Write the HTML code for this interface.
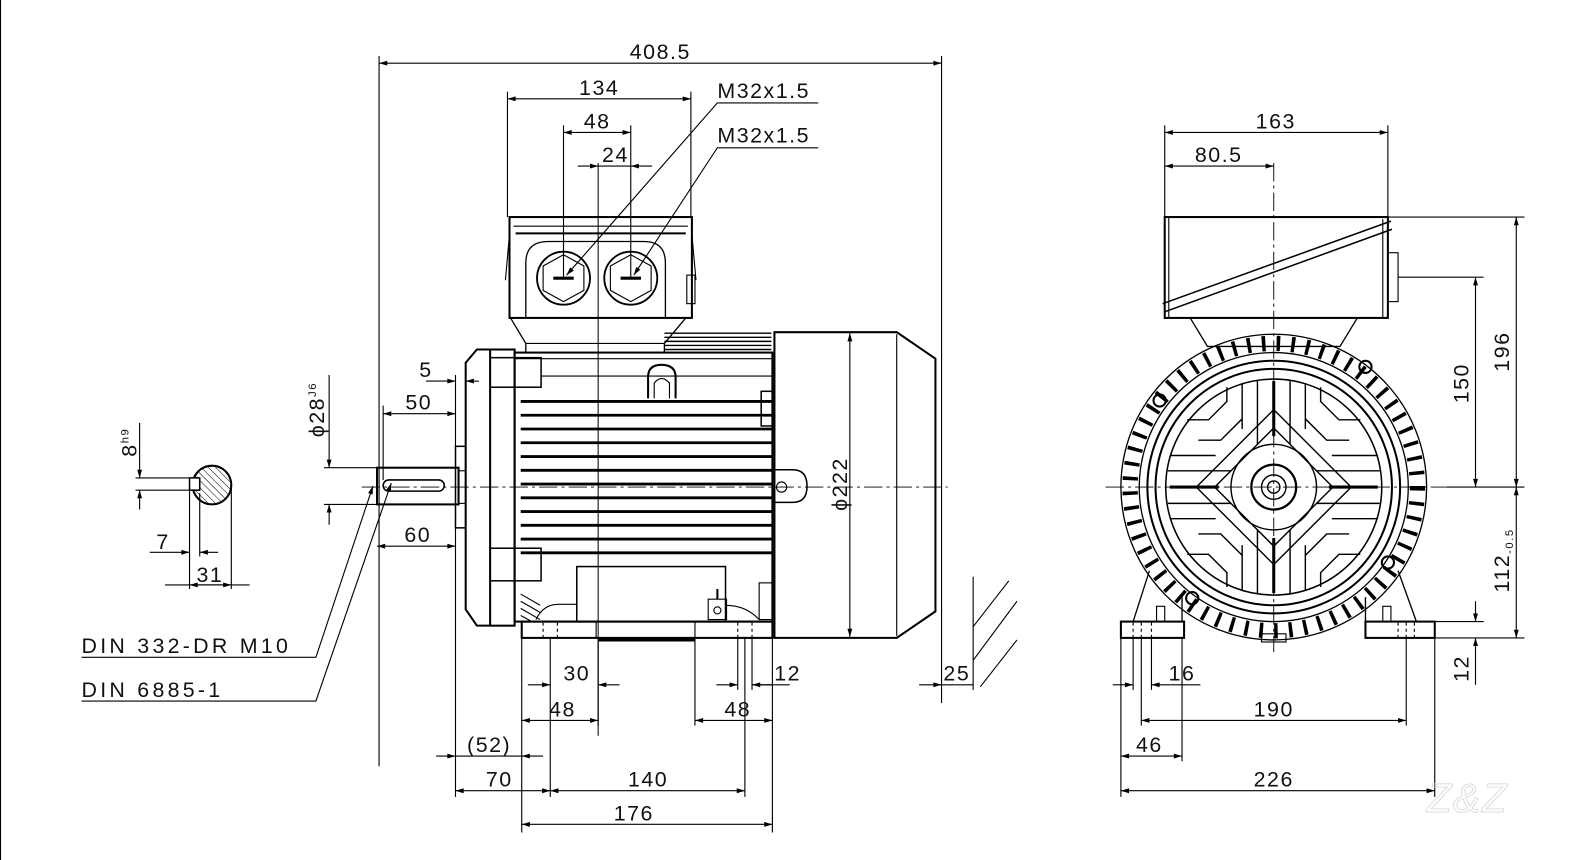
<!DOCTYPE html>
<html><head><meta charset="utf-8"><style>
html,body{margin:0;padding:0;background:#fff;}
svg{display:block}
text{font-family:"Liberation Sans",sans-serif;font-size:21px;fill:#111;letter-spacing:1.5px}
</style></head><body>
<svg width="1596" height="860" viewBox="0 0 1596 860" xmlns="http://www.w3.org/2000/svg">
<defs>
<marker id="a" viewBox="0 0 10 10" refX="10" refY="5" markerWidth="11" markerHeight="8" orient="auto-start-reverse" markerUnits="userSpaceOnUse"><path d="M0,2 L10,5 L0,8z" fill="#000"/></marker>
<pattern id="h" width="5" height="5" patternUnits="userSpaceOnUse" patternTransform="rotate(-45)"><line x1="0" y1="0" x2="0" y2="5" stroke="#000" stroke-width="1"/></pattern>
</defs>
<g transform="scale(1.019)">
<g fill="none" stroke="#000" stroke-width="1.1">
<line x1="0.5" y1="0" x2="0.5" y2="860"/>
<!-- center lines -->
<line x1="355" y1="478" x2="930" y2="478" stroke-dasharray="18 4 3 4" stroke-width="0.9"/>
<line x1="1085" y1="478" x2="1420" y2="478" stroke-dasharray="18 4 3 4" stroke-width="0.9"/>
<line x1="1250" y1="160" x2="1250" y2="640" stroke-dasharray="18 4 3 4" stroke-width="0.9"/>
<line x1="587" y1="160" x2="587" y2="722" stroke-width="1"/>

<!-- 408.5 -->
<line x1="372" y1="55" x2="372" y2="752"/>
<line x1="924" y1="55" x2="924" y2="690"/>
<line x1="372" y1="62" x2="924" y2="62" marker-start="url(#a)" marker-end="url(#a)"/>
<!-- 134 -->
<line x1="498" y1="90" x2="498" y2="213"/><line x1="678" y1="90" x2="678" y2="213"/>
<line x1="498" y1="97" x2="678" y2="97" marker-start="url(#a)" marker-end="url(#a)"/>
<!-- 48 -->
<line x1="553" y1="123" x2="553" y2="272"/><line x1="619" y1="123" x2="619" y2="272"/>
<line x1="553" y1="130" x2="619" y2="130" marker-start="url(#a)" marker-end="url(#a)"/>
<!-- 24 -->
<line x1="567" y1="163" x2="587" y2="163" marker-end="url(#a)"/>
<line x1="640" y1="163" x2="619" y2="163" marker-end="url(#a)"/>
<line x1="587" y1="163" x2="619" y2="163"/>
<!-- M32 leaders -->
<polyline points="803,101 704,101 556,270" marker-end="url(#a)"/>
<polyline points="803,145 704,145 622,270" marker-end="url(#a)"/>

<!-- terminal box side -->
<rect x="500" y="213" width="179" height="99" stroke-width="2"/>
<line x1="504" y1="222" x2="675" y2="222"/>
<line x1="506" y1="229" x2="673" y2="229" stroke-width="2"/>
<line x1="500" y1="230" x2="496" y2="275"/><line x1="679" y1="230" x2="683" y2="275"/>
<path d="M516,312 V258 Q516,237 538,237 H632 Q653,237 653,258 V312" stroke-width="1.3"/>
<circle cx="553" cy="273" r="26" stroke-width="1.8"/>
<polygon points="553,250 573,261 573,285 553,296 533,285 533,261"/>
<circle cx="619" cy="273" r="26" stroke-width="1.8"/>
<polygon points="619,250 639,261 639,285 619,296 599,285 599,261"/>
<line x1="543" y1="273" x2="563" y2="273" stroke-width="3"/>
<line x1="609" y1="273" x2="629" y2="273" stroke-width="3"/>
<rect x="674" y="270" width="8" height="28"/>
<!-- neck -->
<polyline points="501,312 516,337 516,346" stroke-width="1.3"/>
<polyline points="673,312 652,337 652,346" stroke-width="1.3"/>
<line x1="516" y1="337" x2="652" y2="337"/>
<g stroke-width="1.4">
<line x1="652" y1="327" x2="757" y2="327"/><line x1="652" y1="331" x2="757" y2="331"/><line x1="652" y1="335" x2="757" y2="335"/><line x1="652" y1="339" x2="757" y2="339"/><line x1="652" y1="343" x2="757" y2="343"/>
</g>
<!-- main body -->
<rect x="505" y="346" width="253" height="264" stroke-width="2"/>
<line x1="505" y1="352" x2="758" y2="352"/>
<line x1="531" y1="369" x2="758" y2="369"/>
<!-- flange -->
<path d="M481,343 H468 L457,356 V598 L468,614 H481" stroke-width="2"/>
<rect x="481" y="343" width="24" height="271" stroke-width="2"/>
<rect x="481" y="351" width="50" height="29" stroke-width="1.5"/>
<rect x="481" y="538" width="50" height="32" stroke-width="1.5"/>
<rect x="447" y="438" width="10" height="80" stroke-width="1.5"/>
<rect x="450" y="462" width="7" height="32"/>
<!-- lifting eye -->
<path d="M636,391 V370 Q636,358 649,358 Q663,358 663,370 V391" stroke-width="2"/>
<path d="M642,391 V376 Q649,367 657,376 V391"/>
<!-- fins -->
<g stroke-width="2.8">
<line x1="511" y1="394" x2="758" y2="394"/><line x1="511" y1="407.5" x2="758" y2="407.5"/><line x1="511" y1="421" x2="758" y2="421"/><line x1="511" y1="434.5" x2="758" y2="434.5"/><line x1="511" y1="448" x2="758" y2="448"/><line x1="511" y1="461.5" x2="758" y2="461.5"/><line x1="511" y1="475" x2="758" y2="475"/><line x1="511" y1="488.5" x2="758" y2="488.5"/><line x1="511" y1="502" x2="758" y2="502"/><line x1="511" y1="515.5" x2="758" y2="515.5"/><line x1="511" y1="529" x2="758" y2="529"/><line x1="511" y1="542.5" x2="758" y2="542.5"/>
</g>
<rect x="747" y="384" width="11" height="34" stroke-width="1.5"/>
<!-- bottom block -->
<rect x="566" y="556" width="146" height="54" stroke-width="1.5"/>
<rect x="695" y="588" width="18" height="20"/><circle cx="704" cy="599" r="3.5"/>
<line x1="704" y1="578" x2="704" y2="588" stroke-width="2"/>
<path d="M526,608 Q533,593 548,593 H566"/><path d="M712,594 Q732,594 745,608"/>
<line x1="511" y1="583" x2="530" y2="594"/><line x1="511" y1="590" x2="530" y2="601"/><line x1="511" y1="597" x2="530" y2="608"/><line x1="511" y1="604" x2="522" y2="610"/>
<rect x="745" y="572" width="13" height="36"/>
<!-- feet -->
<rect x="512" y="610" width="246" height="16" stroke-width="2"/>
<line x1="585" y1="610" x2="585" y2="626"/><line x1="682" y1="610" x2="682" y2="626"/>
<line x1="533" y1="611" x2="533" y2="625" stroke-dasharray="3 3"/><line x1="547" y1="611" x2="547" y2="625" stroke-dasharray="3 3"/>
<line x1="724" y1="611" x2="724" y2="625" stroke-dasharray="3 3"/><line x1="738" y1="611" x2="738" y2="625" stroke-dasharray="3 3"/>
<line x1="587" y1="628" x2="682" y2="628" stroke-width="3"/>
<!-- lug -->
<path d="M758,461 H778 Q792,461 792,477 Q792,493 778,493 H758" stroke-width="1.5"/>
<circle cx="767" cy="478" r="5"/>
<!-- fan cover -->
<path d="M760,326 H880 L918,352 V600 L880,626 H760 Z" stroke-width="2"/>
<line x1="880" y1="328" x2="880" y2="624"/>
<line x1="834" y1="327" x2="834" y2="625" marker-start="url(#a)" marker-end="url(#a)"/>

<!-- shaft -->
<rect x="370" y="459" width="80" height="36" stroke-width="2"/>
<rect x="376" y="471" width="60" height="11" rx="5.5" stroke-width="1.5"/>
<line x1="318" y1="459" x2="370" y2="459"/><line x1="318" y1="495" x2="370" y2="495"/>
<line x1="323" y1="439" x2="323" y2="459" marker-end="url(#a)"/>
<line x1="323" y1="515" x2="323" y2="495" marker-end="url(#a)"/>
<line x1="323" y1="368" x2="323" y2="439"/>
<!-- 5 -->
<line x1="418" y1="374" x2="447" y2="374" marker-end="url(#a)"/>
<line x1="470" y1="374" x2="457" y2="374" marker-end="url(#a)"/>
<line x1="447" y1="368" x2="447" y2="438"/><line x1="457" y1="368" x2="457" y2="400"/>
<!-- 50 -->
<line x1="376" y1="398" x2="376" y2="471"/>
<line x1="376" y1="406" x2="447" y2="406" marker-start="url(#a)" marker-end="url(#a)"/>
<!-- 60 -->
<line x1="370" y1="536" x2="447" y2="536" marker-start="url(#a)" marker-end="url(#a)"/>
<line x1="447" y1="518" x2="447" y2="782"/>
<!-- DIN leaders -->
<polyline points="80,645 310,645 366,477" marker-end="url(#a)"/>
<polyline points="80,688 310,688 384,474" marker-end="url(#a)"/>

<!-- key section -->
<circle cx="208" cy="476" r="19" stroke-width="2" fill="url(#h)"/>
<rect x="186" y="469" width="10" height="12" fill="#fff" stroke-width="1.5"/>
<line x1="133" y1="469" x2="186" y2="469"/><line x1="133" y1="481" x2="186" y2="481"/>
<line x1="137" y1="451" x2="137" y2="469" marker-end="url(#a)"/>
<line x1="137" y1="500" x2="137" y2="481" marker-end="url(#a)"/>
<line x1="137" y1="415" x2="137" y2="451"/>
<line x1="186" y1="481" x2="186" y2="578"/><line x1="196" y1="484" x2="196" y2="546"/><line x1="227" y1="478" x2="227" y2="578"/>
<line x1="147" y1="542" x2="186" y2="542" marker-end="url(#a)"/>
<line x1="214" y1="542" x2="196" y2="542" marker-end="url(#a)"/>
<line x1="162" y1="574" x2="245" y2="574"/>
<line x1="186" y1="574" x2="227" y2="574" marker-start="url(#a)" marker-end="url(#a)"/>

<!-- bottom dims side -->
<line x1="512" y1="626" x2="512" y2="817"/><line x1="587" y1="626" x2="587" y2="712"/>
<line x1="682" y1="626" x2="682" y2="712"/><line x1="758" y1="626" x2="758" y2="817"/>
<line x1="540" y1="626" x2="540" y2="782"/><line x1="731" y1="626" x2="731" y2="782"/><line x1="724" y1="626" x2="724" y2="677"/><line x1="738" y1="626" x2="738" y2="677"/>
<line x1="518" y1="672" x2="540" y2="672" marker-end="url(#a)"/>
<line x1="608" y1="672" x2="587" y2="672" marker-end="url(#a)"/>
<line x1="703" y1="672" x2="724" y2="672" marker-end="url(#a)"/>
<line x1="775" y1="672" x2="738" y2="672"/>
<line x1="758" y1="672" x2="738" y2="672" marker-end="url(#a)"/>
<line x1="512" y1="707" x2="587" y2="707" marker-start="url(#a)" marker-end="url(#a)"/>
<line x1="682" y1="707" x2="758" y2="707" marker-start="url(#a)" marker-end="url(#a)"/>
<line x1="428" y1="742" x2="447" y2="742" marker-end="url(#a)"/>
<line x1="533" y1="742" x2="512" y2="742" marker-end="url(#a)"/>
<line x1="447" y1="742" x2="512" y2="742"/>
<line x1="447" y1="776" x2="540" y2="776" marker-start="url(#a)" marker-end="url(#a)"/>
<line x1="540" y1="776" x2="731" y2="776" marker-start="url(#a)" marker-end="url(#a)"/>
<line x1="512" y1="809" x2="758" y2="809" marker-start="url(#a)" marker-end="url(#a)"/>
<!-- 25 -->
<line x1="924" y1="672" x2="955" y2="672"/>
<line x1="902" y1="672" x2="924" y2="672" marker-end="url(#a)"/>
<line x1="955" y1="566" x2="955" y2="677"/>
<line x1="955" y1="615" x2="990" y2="570"/><line x1="955" y1="648" x2="998" y2="590"/><line x1="962" y1="674" x2="998" y2="628"/>

<!-- END VIEW -->
<rect x="1143" y="213" width="219" height="99" stroke-width="2"/>
<line x1="1147" y1="213" x2="1147" y2="312"/>
<line x1="1357" y1="215" x2="1357" y2="312"/>
<line x1="1141" y1="298" x2="1365" y2="217" stroke-width="1.5"/>
<line x1="1143" y1="306" x2="1366" y2="225" stroke-width="1.5"/>
<rect x="1362" y="248" width="10" height="48"/>
<polyline points="1168,312 1185,340 1315,340 1332,312" stroke-width="1.3"/>
<circle cx="1250" cy="478" r="141" stroke-width="15" stroke-dasharray="3.5 11"/>
<circle cx="1250" cy="478" r="150" stroke-width="1.3"/>
<circle cx="1250" cy="478" r="132" stroke-width="1.3"/>
<circle cx="1250" cy="478" r="124" stroke-width="2"/>
<circle cx="1250" cy="478" r="116" stroke-width="2"/>
<circle cx="1250" cy="478" r="106" stroke-width="1.5"/>
<g stroke-width="1.4">
<circle cx="1250" cy="478" r="42"/>
<circle cx="1250" cy="478" r="22" stroke-width="2.2"/>
<circle cx="1250" cy="478" r="12"/>
<circle cx="1250" cy="478" r="6"/>
<polygon points="1250,420 1308,478 1250,536 1192,478"/>
<polygon points="1250,402 1326,478 1250,554 1174,478"/>
<line x1="1148" y1="478" x2="1196" y2="478" stroke-width="3"/><line x1="1304" y1="478" x2="1352" y2="478" stroke-width="3"/>
<line x1="1250" y1="374" x2="1250" y2="428" stroke-width="3"/><line x1="1250" y1="528" x2="1250" y2="582" stroke-width="3"/>
<line x1="1146" y1="462" x2="1208" y2="462"/><line x1="1146" y1="494" x2="1208" y2="494"/>
<line x1="1292" y1="462" x2="1354" y2="462"/><line x1="1292" y1="494" x2="1354" y2="494"/>
<line x1="1234" y1="374" x2="1234" y2="436"/><line x1="1266" y1="374" x2="1266" y2="436"/>
<line x1="1234" y1="520" x2="1234" y2="582"/><line x1="1266" y1="520" x2="1266" y2="582"/>
<line x1="1148" y1="447" x2="1193" y2="447"/><line x1="1148" y1="509" x2="1193" y2="509"/>
<line x1="1307" y1="447" x2="1352" y2="447"/><line x1="1307" y1="509" x2="1352" y2="509"/>
<line x1="1219" y1="376" x2="1219" y2="421"/><line x1="1281" y1="376" x2="1281" y2="421"/>
<line x1="1219" y1="535" x2="1219" y2="580"/><line x1="1281" y1="535" x2="1281" y2="580"/>
<polyline points="1165,412 1186,412 1204,394 1204,380"/><polyline points="1335,412 1314,412 1296,394 1296,380"/>
<polyline points="1165,544 1186,544 1204,562 1204,576"/><polyline points="1335,544 1314,544 1296,562 1296,576"/>
<polyline points="1176,432 1198,432 1219,411"/><polyline points="1324,432 1302,432 1281,411"/>
<polyline points="1176,524 1198,524 1219,545"/><polyline points="1324,524 1302,524 1281,545"/>
</g>
<g stroke-width="2"><circle cx="1138" cy="393" r="6"/><circle cx="1340" cy="360" r="6"/><circle cx="1362" cy="552" r="6"/><circle cx="1170" cy="587" r="6"/></g>
<!-- feet end view -->
<path d="M1112,610 L1128,560 M1160,610 L1160,586" stroke-width="1.3"/>
<path d="M1390,610 L1372,560 M1340,610 L1340,586" stroke-width="1.3"/>
<rect x="1100" y="610" width="62" height="16" stroke-width="2"/>
<rect x="1340" y="610" width="68" height="16" stroke-width="2"/>
<rect x="1135" y="595" width="8" height="15"/><rect x="1357" y="595" width="8" height="15"/>
<line x1="1112" y1="611" x2="1112" y2="625" stroke-dasharray="3 3"/><line x1="1120" y1="611" x2="1120" y2="625" stroke-dasharray="3 3"/><line x1="1130" y1="611" x2="1130" y2="625" stroke-dasharray="3 3"/>
<line x1="1372" y1="611" x2="1372" y2="625" stroke-dasharray="3 3"/><line x1="1380" y1="611" x2="1380" y2="625" stroke-dasharray="3 3"/><line x1="1388" y1="611" x2="1388" y2="625" stroke-dasharray="3 3"/>
<rect x="1238" y="622" width="24" height="8"/>

<!-- end view dims -->
<line x1="1143" y1="123" x2="1143" y2="213"/><line x1="1362" y1="123" x2="1362" y2="213"/>
<line x1="1143" y1="130" x2="1362" y2="130" marker-start="url(#a)" marker-end="url(#a)"/>
<line x1="1143" y1="163" x2="1250" y2="163" marker-start="url(#a)" marker-end="url(#a)"/>
<line x1="1362" y1="213" x2="1496" y2="213"/>
<line x1="1372" y1="272" x2="1456" y2="272"/>
<line x1="1420" y1="478" x2="1496" y2="478"/>
<line x1="1408" y1="626" x2="1496" y2="626"/>
<line x1="1408" y1="610" x2="1456" y2="610"/>
<line x1="1488" y1="213" x2="1488" y2="478" marker-start="url(#a)" marker-end="url(#a)"/>
<line x1="1448" y1="272" x2="1448" y2="478" marker-start="url(#a)" marker-end="url(#a)"/>
<line x1="1488" y1="478" x2="1488" y2="626" marker-start="url(#a)" marker-end="url(#a)"/>
<line x1="1448" y1="590" x2="1448" y2="610" marker-end="url(#a)"/>
<line x1="1448" y1="646" x2="1448" y2="626" marker-end="url(#a)"/>
<line x1="1448" y1="646" x2="1448" y2="672"/>
<line x1="1100" y1="626" x2="1100" y2="782"/><line x1="1408" y1="626" x2="1408" y2="782"/>
<line x1="1112" y1="626" x2="1112" y2="677"/><line x1="1120" y1="626" x2="1120" y2="712"/><line x1="1380" y1="626" x2="1380" y2="712"/>
<line x1="1130" y1="626" x2="1130" y2="677"/><line x1="1160" y1="626" x2="1160" y2="747"/>
<line x1="1092" y1="672" x2="1112" y2="672" marker-end="url(#a)"/>
<line x1="1150" y1="672" x2="1130" y2="672" marker-end="url(#a)"/>
<line x1="1150" y1="672" x2="1178" y2="672"/>
<line x1="1120" y1="707" x2="1380" y2="707" marker-start="url(#a)" marker-end="url(#a)"/>
<line x1="1100" y1="742" x2="1160" y2="742" marker-start="url(#a)" marker-end="url(#a)"/>
<line x1="1100" y1="776" x2="1408" y2="776" marker-start="url(#a)" marker-end="url(#a)"/>
</g>

<!-- texts -->
<text x="648" y="58" text-anchor="middle">408.5</text>
<text x="588" y="93" text-anchor="middle">134</text>
<text x="704" y="96">M32x1.5</text>
<text x="704" y="140">M32x1.5</text>
<text x="586" y="126" text-anchor="middle">48</text>
<text x="604" y="159" text-anchor="middle">24</text>
<text x="418" y="370" text-anchor="middle">5</text>
<text x="411" y="402" text-anchor="middle">50</text>
<text x="410" y="532" text-anchor="middle">60</text>
<text x="318" y="402" transform="rotate(-90 318 402)" text-anchor="middle">ϕ28<tspan font-size="11" dy="-8">J6</tspan></text>
<text x="134" y="434" transform="rotate(-90 134 434)" text-anchor="middle">8<tspan font-size="11" dy="-8">h9</tspan></text>
<text x="160" y="539" text-anchor="middle">7</text>
<text x="206" y="571" text-anchor="middle">31</text>
<text x="80" y="641" style="letter-spacing:3.2px">DIN 332-DR M10</text>
<text x="80" y="684" style="letter-spacing:3.2px">DIN 6885-1</text>
<text x="831" y="475" transform="rotate(-90 831 475)" text-anchor="middle">ϕ222</text>
<text x="566" y="668" text-anchor="middle">30</text>
<text x="773" y="668" text-anchor="middle">12</text>
<text x="552" y="703" text-anchor="middle">48</text>
<text x="724" y="703" text-anchor="middle">48</text>
<text x="480" y="738" text-anchor="middle">(52)</text>
<text x="490" y="772" text-anchor="middle">70</text>
<text x="636" y="772" text-anchor="middle">140</text>
<text x="622" y="805" text-anchor="middle">176</text>
<text x="939" y="668" text-anchor="middle">25</text>
<text x="1252" y="126" text-anchor="middle">163</text>
<text x="1196" y="159" text-anchor="middle">80.5</text>
<text x="1481" y="345" transform="rotate(-90 1481 345)" text-anchor="middle">196</text>
<text x="1441" y="376" transform="rotate(-90 1441 376)" text-anchor="middle">150</text>
<text x="1481" y="550" transform="rotate(-90 1481 550)" text-anchor="middle">112<tspan font-size="11" dy="4">-0.5</tspan></text>
<text x="1441" y="656" transform="rotate(-90 1441 656)" text-anchor="middle">12</text>
<text x="1160" y="668" text-anchor="middle">16</text>
<text x="1250" y="703" text-anchor="middle">190</text>
<text x="1128" y="738" text-anchor="middle">46</text>
<text x="1250" y="772" text-anchor="middle">226</text>
<text x="1440" y="797" text-anchor="middle" style="font-size:40px;font-style:italic;fill:none;stroke:#ddd;stroke-width:1">Z&amp;Z</text>
</g>
</svg>
</body></html>
